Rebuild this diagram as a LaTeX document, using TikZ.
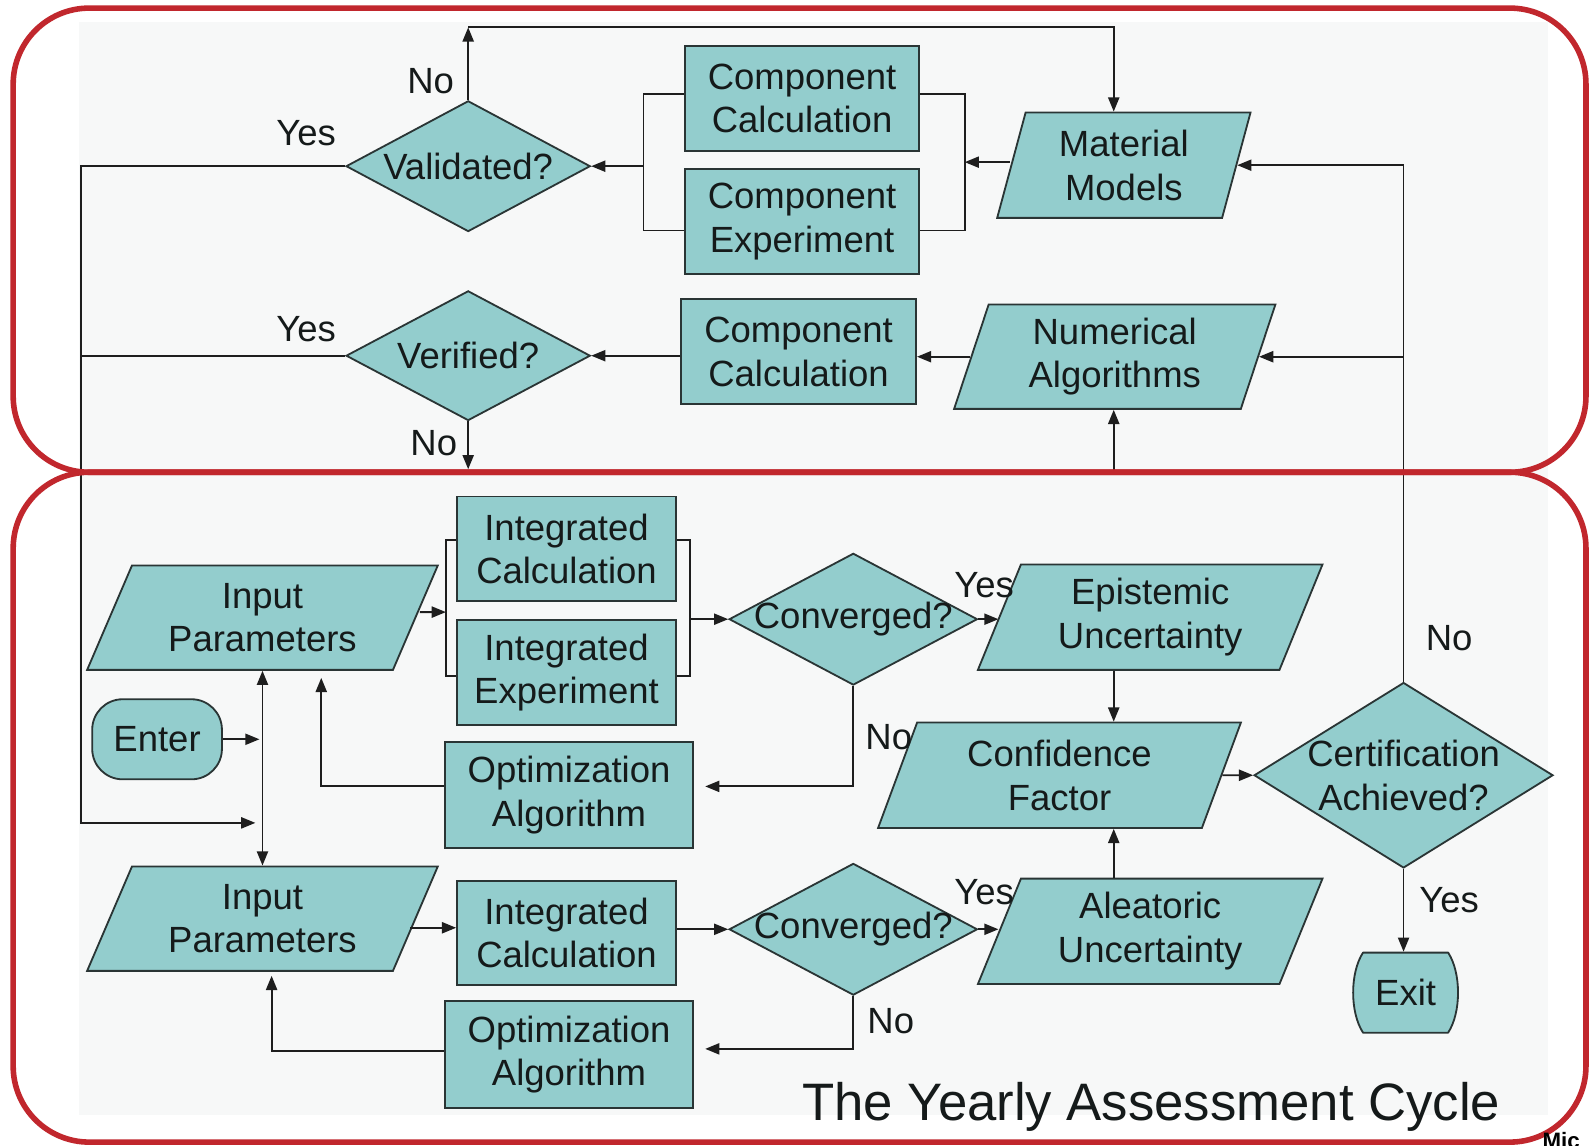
\documentclass[tikz,border=0pt]{standalone}
\usepackage{fontspec}
\setmainfont{Liberation Sans}
\usetikzlibrary{shapes.geometric, arrows.meta}

\definecolor{tealc}{HTML}{93CDCD}
\definecolor{edgec}{HTML}{2A3535}
\definecolor{linec}{HTML}{1E1E1E}
\definecolor{txtc}{HTML}{151A1A}
\definecolor{redc}{HTML}{C1272D}
\definecolor{scanbg}{HTML}{F7F8F8}
\newcommand{\bodyfont}{\fontsize{36}{43}\selectfont}

\begin{document}
\begin{tikzpicture}[x=1pt, y=-1pt,
  shp/.style={draw=edgec, fill=tealc, line width=1.8pt, align=center,
    text=txtc, font=\bodyfont, inner sep=0pt},
  box/.style={shp, rectangle},
  dia/.style={shp, diamond, aspect=1.88, inner xsep=-20pt, inner ysep=-10pt},
  para/.style 2 args={shp, trapezium, trapezium stretches body,
    trapezium left angle=#1, trapezium right angle=#2},
  term/.style={shp, rectangle, rounded corners=30pt},
  textonly/.style={align=center, text=txtc, font=\bodyfont, inner sep=0pt},
  lbl/.style={font=\bodyfont, text=txtc, inner sep=0pt},
  plain/.style={line width=1.8pt, draw=linec},
  arr/.style={plain, -{Triangle[length=14pt,width=11pt]}},
  arrboth/.style={plain, {Triangle[length=14pt,width=11pt]}-{Triangle[length=14pt,width=11pt]}},
  frame/.style={draw=redc, line width=5.5pt, rounded corners=75pt},
]
% page and scanned area
\useasboundingbox (0,0) rectangle (1568,1130);
\fill[white] (0,0) rectangle (1568,1130);
\fill[scanbg] (78,22) rectangle (1528,1100);

% ---------- upper loop: validation and verification ----------
\node[box, minimum width=231pt, minimum height=104pt] (cc1) at (791.5,97) {Component\\Calculation};
\node[box, minimum width=231pt, minimum height=103pt] (ce) at (791.5,218.5) {Component\\Experiment};
\node[box, minimum width=232pt, minimum height=104pt] (cc2) at (788,347) {Component\\Calculation};
\node[dia, minimum width=241pt, minimum height=129pt] (val) at (462,164) {Validated?};
\node[dia, minimum width=241pt, minimum height=128pt] (ver) at (462,351) {Verified?};
\node[para={68}{112}, minimum width=250pt, minimum height=104pt] (mm) at (1109,163) {Material\\Models};
\node[para={66}{114}, minimum width=317pt, minimum height=103pt] (na) at (1100,352) {Numerical\\Algorithms};

% ---------- lower loop: integrated assessment ----------
\node[para={57}{123}, minimum width=346pt, minimum height=103pt] (ip1) at (259,609.5) {Input\\Parameters};
\node[box, minimum width=216pt, minimum height=103pt] (ic1) at (559,541.5) {Integrated\\Calculation};
\node[box, minimum width=216pt, minimum height=103pt] (ie) at (559,663.5) {Integrated\\Experiment};
\node[box, minimum width=245pt, minimum height=105pt] (oa1) at (561.5,784.5) {Optimization\\Algorithm};
\node[dia, minimum width=245pt, minimum height=130pt] (cv1) at (842,611) {Converged?};
\node[para={61}{119}, minimum width=340pt, minimum height=104pt] (epi) at (1135,609) {Epistemic\\Uncertainty};
\node[para={61}{119}, minimum width=358pt, minimum height=104pt] (conf) at (1045.5,765) {Confidence\\Factor};
\node[dia, aspect=1.61, minimum width=295pt, minimum height=183pt] (cert) at (1385,765) {Certification\\Achieved?};
\node[term, minimum width=128pt, minimum height=79pt] (enter) at (155,729.5) {Enter};
\node[para={57}{123}, minimum width=346pt, minimum height=103pt] (ip2) at (259,906.5) {Input\\Parameters};
\node[box, minimum width=216pt, minimum height=103pt] (ic2) at (559,920.5) {Integrated\\Calculation};
\node[box, minimum width=245pt, minimum height=105pt] (oa2) at (561.5,1040.5) {Optimization\\Algorithm};
\node[dia, minimum width=245pt, minimum height=130pt] (cv2) at (842,917) {Converged?};
\node[para={61}{119}, minimum width=340pt, minimum height=104pt] (alea) at (1135,919) {Aleatoric\\Uncertainty};

% exit terminal with bulging sides
\path[draw=edgec, fill=tealc, line width=1.8pt, line join=round]
  (1345,940) -- (1429,940) .. controls (1442,960) and (1442,999) .. (1429,1019)
  -- (1345,1019) .. controls (1332,999) and (1332,960) .. (1345,940) -- cycle
  node[textonly, minimum width=98pt, minimum height=79pt] (exit) at (1387,979.5) {Exit};

% ---------- connectors, upper loop ----------
\coordinate (vtop) at (462,27);
\draw[arr] (val.north) -- (vtop);
\draw[arr] (vtop) -| ([xshift=-10pt]mm.north);

\coordinate (tbl) at (635,164);
\coordinate (tbr) at (952,160);
\draw[plain] ([yshift=4pt]cc1.west) -| (tbl) |- ([yshift=-9pt]ce.west);
\draw[plain] ([yshift=4pt]cc1.east) -| (tbr) |- ([yshift=-9pt]ce.east);
\draw[arr] (tbl) -- (val.east);
\draw[arr] (mm.west |- tbr) -- (tbr);

\draw[arr] (cert.north) |- (mm.east);
\draw[arr] (cert.north |- na.east) -- (na.east);
\draw[arr] (na.west) -- (na.west -| cc2.east);
\draw[arr] (cc2.west |- ver.east) -- (ver.east);

\coordinate (vbot) at (462,463);
\draw[arr] (ver.south) -- (vbot);
\coordinate (nabot) at (1099,466);
\draw[arr] (nabot) -- (na.south -| nabot);

\coordinate (lcorner) at (80,812);
\coordinate (lin) at (252,812);
\draw[arr] (val.west) -| (lcorner) -- (lin);
\draw[plain] (ver.west) -- (ver.west -| lcorner);

% ---------- connectors, lower loop ----------
\coordinate (bbl) at (440,604);
\coordinate (bbr) at (681,611);
\draw[plain] ([yshift=8.5pt]ic1.west) -| (bbl) |- ([yshift=-3.5pt]ie.west);
\draw[plain] ([yshift=8.5pt]ic1.east) -| (bbr) |- ([yshift=-3.5pt]ie.east);
\draw[arr] ([yshift=5.5pt,xshift=3.5pt]ip1.east) -- (bbl);
\draw[arr] (bbr) -- (cv1.west);
\draw[arr] (cv1.east) -- (cv1.east -| epi.west);

\coordinate (cfx) at (1099,765);
\draw[arr] (epi.south -| cfx) -- (conf.north -| cfx);
\draw[arr] (alea.north -| cfx) -- (conf.south -| cfx);

\draw[arr] (cv1.south) |- ([xshift=11pt,yshift=8.5pt]oa1.east);
\draw[arr] ([yshift=8.5pt]oa1.west) -| ([xshift=58pt,yshift=-7pt]ip1.south);

\draw[arr] (enter.east) -- ([xshift=-3pt]enter.east -| ip1.south);
\draw[arrboth] (ip1.south) -- (ip2.north);

\draw[arr] ([yshift=-9pt,xshift=-6pt]ip2.east) -- ([yshift=-9pt]ip2.east -| ic2.west);
\draw[arr] (ic2.east |- cv2.west) -- (cv2.west);
\draw[arr] (cv2.east) -- (cv2.east -| alea.west);
\draw[arr] (cv2.south) |- ([xshift=11pt,yshift=5.5pt]oa2.east);
\draw[arr] ([yshift=3.5pt]oa2.west) -| ([xshift=9pt,yshift=-4pt]ip2.south);

\draw[arr] (conf.east) -- (cert.west);
\draw[arr] (cert.south) -- (cert.south |- exit.north);

% ---------- branch labels ----------
\node[lbl] (l1) at (425,80) {No};
\node[lbl] (l2) at (302,131) {Yes};
\node[lbl] (l3) at (302,325) {Yes};
\node[lbl] (l4) at (428,437) {No};
\node[lbl] (l5) at (971,577) {Yes};
\node[lbl] (l6) at (877,727) {No};
\node[lbl] (l7) at (971,880) {Yes};
\node[lbl] (l8) at (879,1008) {No};
\node[lbl] (l9) at (1430,630) {No};
\node[lbl] (l10) at (1430,888) {Yes};

% ---------- frames and captions ----------
\draw[frame] (13,8) rectangle (1565,466);
\draw[frame] (13,466) rectangle (1565,1127);
\node[text=txtc, inner sep=0pt, font=\fontsize{52}{62}\selectfont] (title) at (1136,1092) {The Yearly Assessment Cycle};
\node[anchor=north west, inner sep=0pt, text=black, font=\bfseries\fontsize{22}{26}\selectfont] (credit) at (1522,1117) {Mic};
\end{tikzpicture}
\end{document}
